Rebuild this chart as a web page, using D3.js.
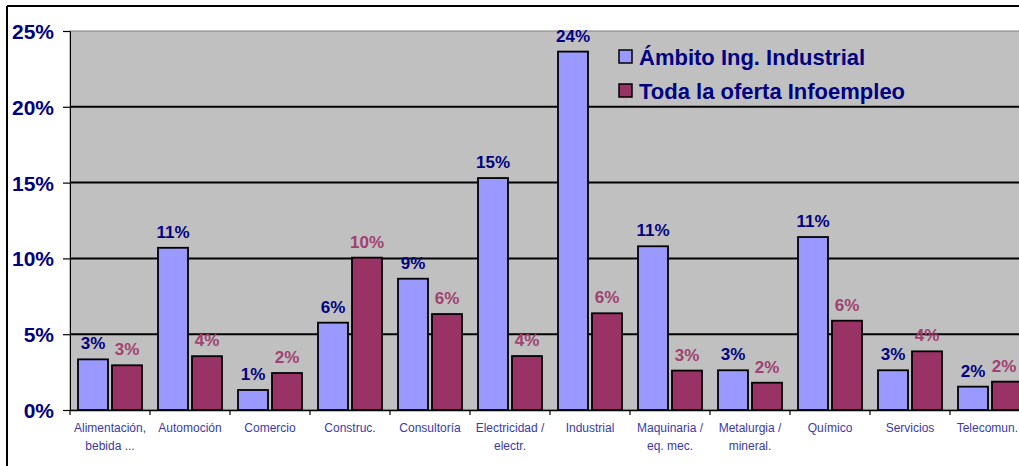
<!DOCTYPE html>
<html>
<head>
<meta charset="utf-8">
<script src="https://cdn.jsdelivr.net/npm/d3@7"></script>
<style>
  html, body { margin: 0; padding: 0; background: #ffffff; }
  svg { display: block; font-family: "Liberation Sans", Arial, sans-serif; }
</style>
</head>
<body>
<svg id="chart" width="1019" height="466"></svg>
<script>
// ---- Data ----
const categories = [
  "Alimentación,\nbebida ...",
  "Automoción",
  "Comercio",
  "Construc.",
  "Consultoría",
  "Electricidad /\nelectr.",
  "Industrial",
  "Maquinaria /\neq. mec.",
  "Metalurgia /\nmineral.",
  "Químico",
  "Servicios",
  "Telecomun."
];
const seriesNames = ["Ámbito Ing. Industrial", "Toda la oferta Infoempleo"];
const ambitoValues = [3.34, 10.7, 1.32, 5.76, 8.66, 15.3, 23.64, 10.8, 2.62, 11.41, 2.62, 1.54];
const ofertaValues = [2.95, 3.55, 2.44, 10.05, 6.33, 3.56, 6.38, 2.6, 1.8, 5.89, 3.87, 1.87];
const yTicks = [0, 5, 10, 15, 20, 25];

// ---- Styling ----
const barColors = ["#9999FF", "#993366"];
const labelColors = ["#000080", "#A0416F"];

const svg = d3.select("#chart");

// outer frame (left and top lines)
svg.append("line").attr("x1", 7).attr("x2", 7).attr("y1", 6).attr("y2", 466)
  .attr("stroke", "#000").attr("stroke-width", 2);
svg.append("line").attr("x1", 7).attr("x2", 1019).attr("y1", 6).attr("y2", 6)
  .attr("stroke", "#000").attr("stroke-width", 2);

const plot = { left: 70, right: 1030, top: 31, bottom: 410 };

const x0 = d3.scaleBand().domain(categories).range([plot.left, plot.right]);
const x1 = d3.scaleBand().domain([0, 1]).range([8, 72]).paddingInner(4 / 34);
const y = d3.scaleLinear().domain([0, 25]).range([plot.bottom, plot.top]);

// plot background
svg.append("rect")
  .attr("x", plot.left).attr("y", plot.top)
  .attr("width", plot.right - plot.left).attr("height", plot.bottom - plot.top)
  .attr("fill", "#C0C0C0").attr("stroke", "#808080").attr("stroke-width", 1);

// gridlines
svg.append("g").selectAll("line").data(yTicks.filter(d => d > 0 && d < 25)).join("line")
  .attr("x1", plot.left).attr("x2", plot.right)
  .attr("y1", d => y(d)).attr("y2", d => y(d))
  .attr("stroke", "#000").attr("stroke-width", 2);

// y axis
const yAxis = svg.append("g").attr("transform", `translate(${plot.left},0)`)
  .call(d3.axisLeft(y).tickValues(yTicks).tickSize(7).tickPadding(9).tickFormat(d => d + "%"));
yAxis.select(".domain").attr("stroke", "#000").attr("stroke-width", 1);
yAxis.selectAll(".tick line").attr("stroke", "#000").attr("stroke-width", 1.2);
yAxis.selectAll(".tick text")
  .attr("fill", "#000080").attr("font-size", 21).attr("font-weight", "bold")
  .attr("font-family", "Liberation Sans, Arial, sans-serif")
  .attr("dy", "0.36em");

// x axis
const xAxis = svg.append("g").attr("transform", `translate(0,${plot.bottom})`)
  .call(d3.axisBottom(x0).tickSize(0).tickFormat(""));
xAxis.select(".domain").attr("stroke", "#000").attr("stroke-width", 1.5);
// tick marks at category boundaries
svg.append("g").selectAll("line").data(categories).join("line")
  .attr("x1", d => x0(d)).attr("x2", d => x0(d))
  .attr("y1", plot.bottom).attr("y2", plot.bottom + 5)
  .attr("stroke", "#000").attr("stroke-width", 1.2);

// category labels
const catG = svg.append("g");
categories.forEach(c => {
  const lines = c.split("\n");
  const t = catG.append("text")
    .attr("y", 432)
    .attr("text-anchor", "middle")
    .attr("font-size", 12)
    .attr("fill", "#3A3AA6");
  const spans = lines.map((ln, i) =>
    t.append("tspan").attr("dy", i === 0 ? 0 : 18).text(ln));
  // keep label inside the picture
  let cx = x0(c) + x0.bandwidth() / 2;
  const w = t.node().getComputedTextLength ? Math.max(...spans.map(s => s.node().getComputedTextLength())) : 0;
  if (cx + w / 2 > 1018) cx = 1018 - w / 2;
  spans.forEach(s => s.attr("x", cx));
});

// bars
const seriesData = [ambitoValues, ofertaValues];
const fmt = d => d3.format(".0f")(d) + "%";
seriesData.forEach((vals, s) => {
  const g = svg.append("g");
  g.selectAll("rect").data(vals).join("rect")
    .attr("x", (d, i) => x0(categories[i]) + x1(s))
    .attr("y", d => y(d))
    .attr("width", x1.bandwidth())
    .attr("height", d => y(0) - y(d))
    .attr("fill", barColors[s])
    .attr("stroke", "#000").attr("stroke-width", 1.8);
  g.selectAll("text").data(vals).join("text")
    .attr("x", (d, i) => {
      const cx = x0(categories[i]) + x1(s) + x1.bandwidth() / 2;
      return Math.min(cx, 1004);
    })
    .attr("y", d => y(d) - 10)
    .attr("text-anchor", "middle")
    .attr("font-size", 17).attr("font-weight", "bold")
    .attr("fill", labelColors[s])
    .text(d => fmt(d));
});

// legend
const legend = svg.append("g");
seriesNames.forEach((name, i) => {
  const ly = 50 + i * 34;
  legend.append("rect").attr("x", 619).attr("y", ly).attr("width", 13).attr("height", 13)
    .attr("fill", barColors[i]).attr("stroke", "#000").attr("stroke-width", 1.5);
  legend.append("text").attr("x", 639).attr("y", ly + 15)
    .attr("font-size", 22).attr("font-weight", "bold").attr("fill", "#000080")
    .text(name);
});
</script>
</body>
</html>
